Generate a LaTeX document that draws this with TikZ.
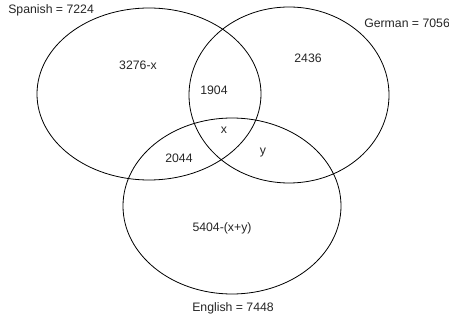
\documentclass[tikz,border=0pt]{standalone}
\usepackage{fontspec}
\setmainfont{Liberation Sans}
\begin{document}
\begin{tikzpicture}[x=0.75pt,y=-0.75pt,
  circ/.style={draw=black,line width=0.6pt},
  lbl/.style={inner sep=0pt,font=\fontsize{9.2}{11}\selectfont,text=black!85}]
\useasboundingbox (0,0) rectangle (449,320);
\clip (0,0) rectangle (449,320);
\fill[white] (0,0) rectangle (449,320);
\draw[circ] (149,94) ellipse [x radius=112, y radius=86];
\draw[circ] (289,95) ellipse [x radius=100, y radius=88];
\draw[circ] (232,206) ellipse [x radius=109, y radius=88];
\node[lbl,anchor=west] (sp) at (8,10) {Spanish = 7224};
\node[lbl,anchor=west] (ge) at (364,23) {German = 7056};
\node[lbl] (en) at (233,308) {English = 7448};
\node[lbl] (a) at (138,65) {3276-x};
\node[lbl] (b) at (308,58) {2436};
\node[lbl] (c) at (214,90) {1904};
\node[lbl] (d) at (224,130) {x};
\node[lbl] (e) at (179,158) {2044};
\node[lbl] (f) at (263,153) {y};
\node[lbl] (g) at (222,228) {5404-(x+y)};
\end{tikzpicture}
\end{document}
